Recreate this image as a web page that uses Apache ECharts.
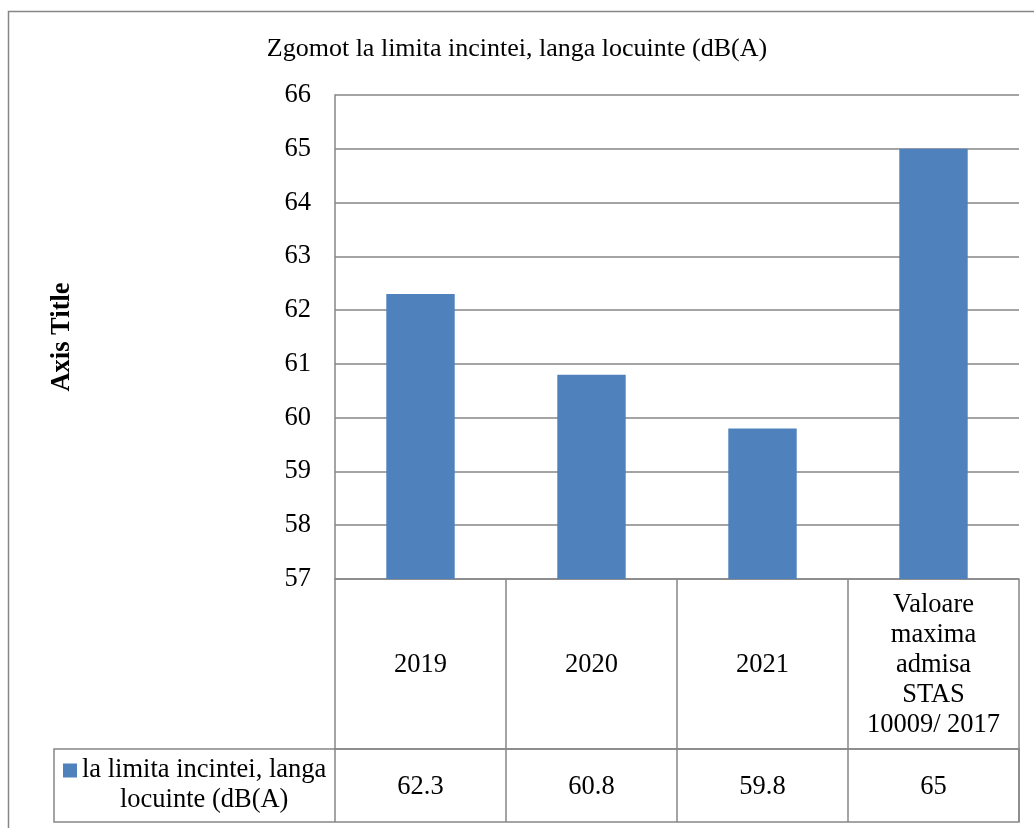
<!DOCTYPE html>
<html>
<head>
<meta charset="utf-8">
<title>Zgomot la limita incintei</title>
<script src="https://cdn.jsdelivr.net/npm/echarts@6/dist/echarts.min.js"></script>
<style>
  html, body { margin: 0; padding: 0; background: #ffffff; }
  #chart { width: 1034px; height: 828px; }
</style>
</head>
<body>
<div id="chart"></div>
<script>
// Noise measured at the site boundary, near dwellings, dB(A)
const categories = ['2019', '2020', '2021', 'Valoare\nmaxima\nadmisa\nSTAS\n10009/ 2017'];
const values = [62.3, 60.8, 59.8, 65];
const yTicks = { min: 57, max: 66, step: 1 };
const seriesName = 'la limita incintei, langa locuinte (dB(A)';
const chartTitle = 'Zgomot la limita incintei, langa locuinte (dB(A)';

const FONT = 'Liberation Serif';
const FS = 26.5;
const LINE = '#868686';
const BAR = '#4F81BD';

const chart = echarts.init(document.getElementById('chart'), null, { renderer: 'canvas' });

// Geometry of the plot area and the data table under it
const grid = { left: 335, right: 15, top: 95, bottom: 249 };
const rowCat = 170;   // height of the category row
const rowVal = 73;    // height of the value row

chart.setOption({
  animation: false,
  backgroundColor: '#ffffff',
  title: {
    text: chartTitle,
    left: 'center',
    top: 36,
    padding: 0,
    textStyle: { fontFamily: FONT, fontSize: 26, fontWeight: 'normal', color: '#000' }
  },
  legend: {
    data: [seriesName],
    left: 63,
    top: 757,
    padding: 0,
    itemWidth: 14,
    itemHeight: 14,
    icon: 'rect',
    selectedMode: false,
    formatter: function () {
      return '{c|la limita incintei, langa}\n{c|locuinte (dB(A)}';
    },
    textStyle: {
      fontFamily: FONT,
      fontSize: FS,
      color: '#000',
      padding: [30, 0, 0, 0],
      rich: {
        c: { fontFamily: FONT, fontSize: FS, lineHeight: 30, color: '#000', align: 'center' }
      }
    }
  },
  grid: Object.assign({ containLabel: false }, grid),
  xAxis: [
    {
      type: 'category',
      data: categories,
      position: 'bottom',
      boundaryGap: true,
      axisLine: { show: true, lineStyle: { color: LINE, width: 1.5 } },
      axisTick: { show: true, interval: 0, alignWithLabel: false, length: rowCat + rowVal,
                  lineStyle: { color: LINE, width: 1.5 } },
      axisLabel: {
        interval: 0,
        margin: rowCat / 2 + 1,
        verticalAlign: 'middle',
        align: 'center',
        fontFamily: FONT,
        fontSize: FS,
        lineHeight: 30,
        color: '#000'
      },
      splitLine: { show: false }
    },
    {
      type: 'category',
      data: categories,
      position: 'bottom',
      offset: rowCat,
      boundaryGap: true,
      axisLine: { show: true, lineStyle: { color: LINE, width: 1.5 } },
      axisTick: { show: false },
      axisLabel: {
        interval: 0,
        margin: rowVal / 2 + 2,
        verticalAlign: 'middle',
        align: 'center',
        fontFamily: FONT,
        fontSize: FS,
        color: '#000',
        formatter: function (v, i) { return String(values[i]); }
      },
      splitLine: { show: false }
    }
  ],
  yAxis: {
    type: 'value',
    min: yTicks.min,
    max: yTicks.max,
    interval: yTicks.step,
    name: 'Axis Title',
    nameLocation: 'middle',
    nameGap: 259,
    nameRotate: 90,
    nameTextStyle: { fontFamily: FONT, fontSize: FS, fontWeight: 'bold', color: '#000' },
    axisLine: { show: true, lineStyle: { color: LINE, width: 1.5 } },
    axisTick: { show: false },
    axisLabel: { margin: 24, padding: [5, 0, 0, 0], fontFamily: FONT, fontSize: FS, color: '#000' },
    splitLine: { show: true, lineStyle: { color: LINE, width: 1.5 } }
  },
  series: [
    {
      name: seriesName,
      type: 'bar',
      xAxisIndex: 0,
      data: values,
      barWidth: '40%',
      itemStyle: { color: BAR },
      emphasis: { disabled: true }
    }
  ],
  graphic: [
    // outer chart frame
    {
      type: 'rect',
      silent: true,
      shape: { x: 8.5, y: 11.5, width: 1100, height: 900 },
      style: { fill: 'none', stroke: LINE, lineWidth: 1.5 }
    },
    // legend-key cell and bottom border of the data table
    {
      type: 'rect',
      silent: true,
      shape: { x: 54, y: 749, width: 965, height: 73 },
      style: { fill: 'none', stroke: LINE, lineWidth: 1.5 }
    }
  ]
});
</script>
</body>
</html>
